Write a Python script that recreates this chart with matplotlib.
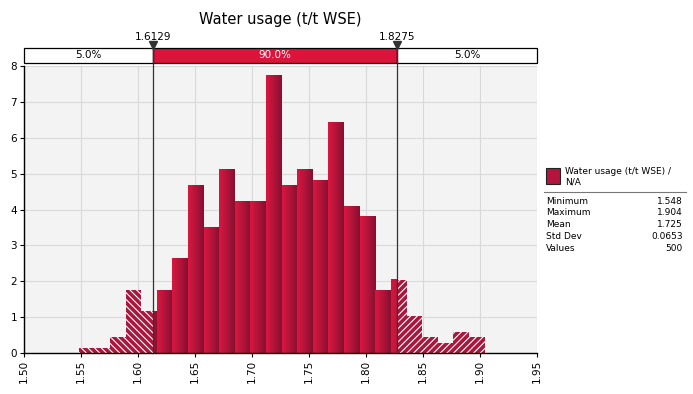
import numpy as np
import matplotlib
matplotlib.use("Agg")
import matplotlib.pyplot as plt
from matplotlib.transforms import blended_transform_factory
from matplotlib.colors import LinearSegmentedColormap

plt.rcParams['font.family'] = ['DejaVu Sans']
plt.rcParams['hatch.linewidth'] = 0.8
plt.rcParams['hatch.color'] = 'white'

# histogram (counts per bin, 500 values)
x_min = 1.548
x_max = 1.904
counts = [1, 1, 3, 12, 8, 12, 18, 32, 24, 35, 29, 29, 53, 32, 35, 33, 44, 28, 26, 12, 14, 7, 3, 2, 4, 3]
n_values = 500
lower_cut = 1.6129
upper_cut = 1.8275
band_labels = ["5.0%", "90.0%", "5.0%"]

title = "Water usage (t/t WSE)"
legend_label = "Water usage (t/t WSE) /\nN/A"
stat_names = ["Minimum", "Maximum", "Mean", "Std Dev", "Values"]
stat_values = ["1.548", "1.904", "1.725", "0.0653", "500"]

xticks = [1.50, 1.55, 1.60, 1.65, 1.70, 1.75, 1.80, 1.85, 1.90, 1.95]
yticks = [0, 1, 2, 3, 4, 5, 6, 7, 8]

crimson = '#dc143c'
hatch_fill = '#a9173d'
grad = LinearSegmentedColormap.from_list('g', ['#d8173f', '#b3143a', '#86102f'])

fig = plt.figure(figsize=(6.93, 3.94), dpi=100)
ax = fig.add_axes([24 / 693, 41 / 394, 513 / 693, 287 / 394])
ax.set_facecolor('#f3f3f3')

nb = len(counts)
width = (x_max - x_min) / nb
edges = x_min + width * np.arange(nb + 1)
heights = np.array(counts) / (n_values * width)


def solid(x0, x1, h, full0, full1):
    # gradient spans the full bin, cropped to [x0, x1]
    a = (x0 - full0) / (full1 - full0)
    b = (x1 - full0) / (full1 - full0)
    g = np.linspace(a, b, 32).reshape(1, -1)
    ax.imshow(g, cmap=grad, vmin=0, vmax=1, extent=[x0, x1, 0, h],
              aspect='auto', zorder=2, interpolation='bilinear')


def hatched(x0, x1, h, pat):
    ax.bar(x0, h, width=x1 - x0, align='edge', color=hatch_fill,
           hatch=pat, edgecolor='white', linewidth=0, zorder=2)


left_pat = '\\\\\\\\\\'
right_pat = '/////'
for i in range(nb):
    e0, e1, h = edges[i], edges[i + 1], heights[i]
    if e1 <= lower_cut:
        hatched(e0, e1, h, left_pat)
    elif e0 < lower_cut:
        hatched(e0, lower_cut, h, left_pat)
        solid(lower_cut, e1, h, e0, e1)
    elif e1 <= upper_cut:
        solid(e0, e1, h, e0, e1)
    elif e0 < upper_cut:
        solid(e0, upper_cut, h, e0, e1)
        hatched(upper_cut, e1, h, right_pat)
    else:
        hatched(e0, e1, h, right_pat)

ax.set_xlim(1.50, 1.95)
ax.set_ylim(0, 8)
ax.set_xticks(xticks)
ax.set_xticklabels([f"{t:.2f}" for t in xticks], rotation=90, fontsize=7.5)
ax.set_yticks(yticks)
ax.set_yticklabels([str(t) for t in yticks], fontsize=7.5)
ax.tick_params(length=3, width=0.8, color='black', pad=2)
ax.grid(True, color='#d9d9d9', linewidth=0.8, zorder=0)
ax.set_axisbelow(True)
for s in ['top', 'right']:
    ax.spines[s].set_visible(False)
for s in ['left', 'bottom']:
    ax.spines[s].set_linewidth(1.0)
    ax.spines[s].set_zorder(5)

# delimiter band above the plot
tr = blended_transform_factory(ax.transData, ax.transAxes)
b0, b1 = 1.0105, 1.0627
segs = [(1.50, lower_cut, 'white', 'black'),
        (lower_cut, upper_cut, crimson, 'white'),
        (upper_cut, 1.95, 'white', 'black')]
for (s0, s1, fc, tc), lab in zip(segs, band_labels):
    ax.add_patch(plt.Rectangle((s0, b0), s1 - s0, b1 - b0, transform=tr,
                               facecolor=fc, edgecolor='black', linewidth=0.9,
                               clip_on=False, zorder=6))
    ax.text((s0 + s1) / 2, (b0 + b1) / 2, lab, transform=tr, ha='center',
            va='center', fontsize=7.5, color=tc, zorder=7, clip_on=False)

for c in [lower_cut, upper_cut]:
    ax.plot([c, c], [0, b1], transform=tr, color='#333333', linewidth=0.9,
            clip_on=False, zorder=8)
    ax.plot([c], [b1 + 0.012], transform=tr, marker='v', markersize=6,
            color='#333333', clip_on=False, zorder=9)
    ax.text(c, 1.101, f"{c:.4f}", transform=tr, ha='center', va='center',
            fontsize=7.5, clip_on=False)

ax.text(0.5, 1.163, title, transform=ax.transAxes, ha='center', va='center',
        fontsize=10.5)


# legend / stats panel
def fx(px):
    return px / 693


def fy(py):
    return 1 - py / 394


fig.patches.append(plt.Rectangle((fx(546), fy(184)), 14 / 693, 16 / 394,
                                 transform=fig.transFigure, facecolor='#b5143d',
                                 edgecolor='#222222', linewidth=0.8))
fig.text(fx(565), fy(177), legend_label, ha='left', va='center', fontsize=6.5,
         linespacing=1.2)
fig.add_artist(plt.Line2D([fx(544), fx(686)], [fy(192), fy(192)],
                          transform=fig.transFigure, color='#777777', linewidth=0.8))
for k, (n, v) in enumerate(zip(stat_names, stat_values)):
    y = fy(201 + 11.8 * k)
    fig.text(fx(546), y, n, ha='left', va='center', fontsize=6.5)
    fig.text(fx(683), y, v, ha='right', va='center', fontsize=6.5)

fig.savefig("out.png", dpi=100)
